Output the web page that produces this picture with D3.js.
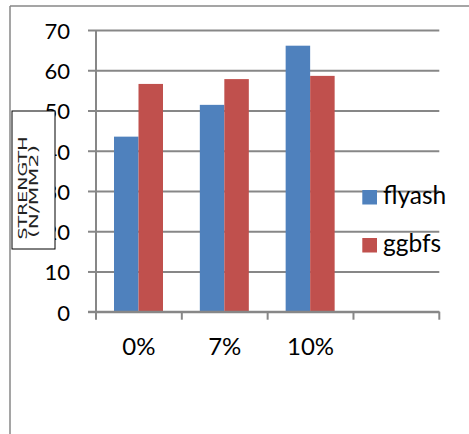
<!DOCTYPE html>
<html>
<head>
<meta charset="utf-8">
<script src="https://cdn.jsdelivr.net/npm/d3@7"></script>
<style>
  html, body { margin: 0; padding: 0; background: #fff; }
  svg { display: block; }
</style>
</head>
<body>
<svg id="chart" width="469" height="434"></svg>
<script>
// Compressive strength by replacement percentage
const categories = ["0%", "7%", "10%"];
const seriesNames = ["flyash", "ggbfs"];
const flyash = [43.5, 51.4, 66.1];
const ggbfs = [56.6, 57.8, 58.6];
const yTicks = [0, 10, 20, 30, 40, 50, 60, 70];
const axisTitle = ["STRENGTH", "(N/MM2)"];

const colors = { flyash: "#4F81BD", ggbfs: "#C0504D" };
const gridColor = "#878787";
const values = { flyash, ggbfs };

const svg = d3.select("#chart");

// frame lines (top and left)
svg.append("line").attr("x1", 10).attr("x2", 469).attr("y1", 6).attr("y2", 6)
  .attr("stroke", gridColor).attr("stroke-width", 1.5);
svg.append("line").attr("x1", 10).attr("x2", 10).attr("y1", 6).attr("y2", 434)
  .attr("stroke", gridColor).attr("stroke-width", 1.5);

const plotLeft = 96, plotRight = 439.3, plotTop = 30, plotBottom = 311.7;

// one spare empty slot at the right end of the category axis
const xDomain = [...categories, ""];
const x = d3.scaleBand().domain(xDomain).range([plotLeft, plotRight]).padding(0);
const x1 = d3.scaleBand().domain(seriesNames).range([18, 67]).padding(0);
const y = d3.scaleLinear().domain([0, 70]).range([plotBottom, plotTop]);

// horizontal gridlines
const grid = svg.append("g").attr("transform", `translate(${plotLeft},0)`)
  .call(d3.axisLeft(y).tickValues(yTicks).tickSize(-(plotRight - plotLeft)).tickFormat(""));
grid.select(".domain").remove();
grid.selectAll(".tick line").attr("stroke", gridColor).attr("stroke-width", 2);

// value axis with outside ticks and labels
const yAxis = svg.append("g").attr("transform", `translate(${plotLeft},0)`)
  .call(d3.axisLeft(y).tickValues(yTicks).tickSize(8).tickPadding(18).tickFormat(d3.format("d")));
yAxis.select(".domain").attr("stroke", gridColor).attr("stroke-width", 2)
  .attr("d", `M0,${plotTop}V${plotBottom}`);
yAxis.selectAll(".tick line").attr("stroke", gridColor).attr("stroke-width", 2);
yAxis.selectAll(".tick text")
  .attr("font-family", "Lato, 'Open Sans', sans-serif")
  .attr("font-size", 21)
  .attr("fill", "#000")
  .attr("dy", "0.4em")
  .attr("textLength", d => String(d).length * 12.8)
  .attr("lengthAdjust", "spacingAndGlyphs");

// bars
const groups = svg.append("g").selectAll("g")
  .data(categories)
  .join("g")
  .attr("transform", d => `translate(${x(d)},0)`);
groups.selectAll("rect")
  .data((d, i) => seriesNames.map(s => ({ s, v: values[s][i] })))
  .join("rect")
  .attr("x", d => x1(d.s))
  .attr("width", x1.bandwidth())
  .attr("y", d => y(d.v))
  .attr("height", d => y(0) - y(d.v))
  .attr("fill", d => colors[d.s]);

// category axis
const xAxis = svg.append("g").attr("transform", `translate(0,${plotBottom})`)
  .call(d3.axisBottom(x).tickSize(0).tickPadding(26));
xAxis.select(".domain").attr("stroke", gridColor).attr("stroke-width", 2)
  .attr("d", `M${plotLeft - 8},0H${plotRight}`);
xAxis.selectAll(".tick text")
  .attr("font-family", "Lato, 'Open Sans', sans-serif")
  .attr("font-size", 24)
  .attr("fill", "#000");
// boundary ticks between categories
const bounds = xDomain.map(d => x(d)).concat([x.range()[1]]);
xAxis.selectAll("line.bound").data(bounds).join("line")
  .attr("class", "bound")
  .attr("x1", d => d).attr("x2", d => d)
  .attr("y1", 0).attr("y2", 8)
  .attr("stroke", gridColor).attr("stroke-width", 2);

// legend
const legend = svg.append("g");
const legendY = [190, 238];
seriesNames.forEach((s, i) => {
  legend.append("rect").attr("x", 362.3).attr("y", legendY[i])
    .attr("width", 14.7).attr("height", 14.5).attr("fill", colors[s]);
  legend.append("text").attr("x", 383).attr("y", legendY[i] + 14.3)
    .attr("font-family", "Lato, 'Open Sans', sans-serif")
    .attr("font-size", 24.5)
    .attr("fill", "#000")
    .text(s);
});

// value axis title box
const titleBox = svg.append("g");
titleBox.append("rect").attr("x", 12).attr("y", 111).attr("width", 43).attr("height", 138)
  .attr("fill", "#fff").attr("stroke", "#000").attr("stroke-width", 1);
const titlePos = [[26.5, 188, 103], [37.5, 191.5, 93]];
axisTitle.forEach((t, i) => {
  titleBox.append("text")
    .attr("transform", `translate(${titlePos[i][0]},${titlePos[i][1]}) rotate(-90)`)
    .attr("text-anchor", "middle")
    .attr("font-family", "'DejaVu Sans', sans-serif")
    .attr("font-size", 11.5)
    .attr("fill", "#222")
    .attr("textLength", titlePos[i][2])
    .attr("lengthAdjust", "spacingAndGlyphs")
    .text(t);
});
</script>
</body>
</html>
